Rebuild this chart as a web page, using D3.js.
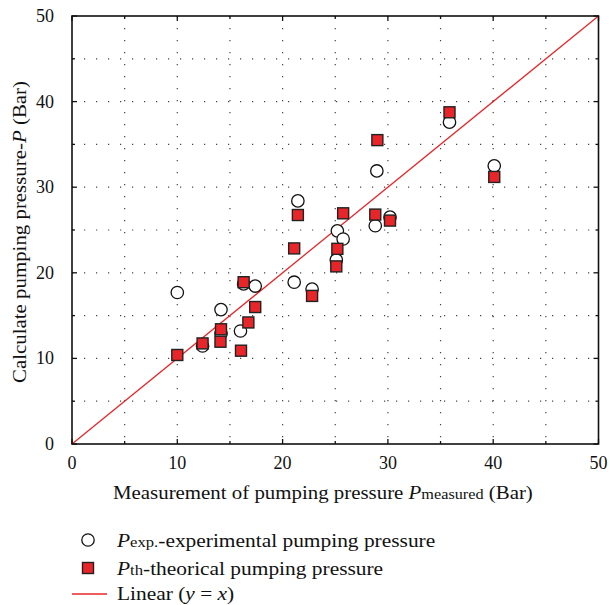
<!DOCTYPE html>
<html>
<head>
<meta charset="utf-8">
<script src="https://cdn.jsdelivr.net/npm/d3@7"></script>
<style>
  html, body { margin: 0; padding: 0; background: #fff; }
  svg { display: block; }
  text { font-family: "Liberation Serif", "Times New Roman", serif; fill: #111; }
</style>
</head>
<body>
<svg id="chart" width="610" height="605"></svg>
<script>
// ---- data ----
const expX = [10.0, 12.4, 14.15, 14.15, 16.0, 16.3, 17.4, 21.1, 21.45, 22.8, 25.2, 25.1, 25.75, 28.95, 28.8, 30.2, 35.85, 40.1];
const expY = [17.7, 11.45, 15.7, 12.9, 13.2, 18.7, 18.45, 18.9, 28.4, 18.1, 24.9, 21.5, 23.95, 31.9, 25.5, 26.5, 37.6, 32.5];

const thX = [10.0, 12.4, 14.1, 14.15, 16.05, 16.3, 16.75, 17.4, 21.1, 21.45, 22.8, 25.1, 25.2, 25.75, 28.8, 29.0, 30.2, 35.85, 40.1];
const thY = [10.4, 11.75, 11.95, 13.4, 10.9, 18.9, 14.2, 16.0, 22.85, 26.75, 17.3, 20.75, 22.8, 26.95, 26.8, 35.5, 26.1, 38.75, 31.2];

const lineX = [0, 50];
const lineY = [0, 50];

const xTicks = [0, 10, 20, 30, 40, 50];
const yTicks = [0, 10, 20, 30, 40, 50];
const gridTicks = [5, 10, 15, 20, 25, 30, 35, 40, 45];
const minorTicks = [5, 15, 25, 35, 45];

// ---- layout ----
const svg = d3.select("#chart");
const L = 72, R = 598.5, T = 16, B = 444;
const x = d3.scaleLinear().domain([0, 50]).range([L, R]);
const y = d3.scaleLinear().domain([0, 50]).range([B, T]);

const red = "#e8262a";

// grid
const g = svg.append("g");
g.selectAll(".vg").data(gridTicks).join("line")
  .attr("x1", d => x(d)).attr("x2", d => x(d))
  .attr("y1", T).attr("y2", B)
  .attr("stroke", "#444").attr("stroke-width", 1.2)
  .attr("stroke-dasharray", "1.2,10.8");
g.selectAll(".hg").data(gridTicks).join("line")
  .attr("y1", d => y(d)).attr("y2", d => y(d))
  .attr("x1", L).attr("x2", R)
  .attr("stroke", "#444").attr("stroke-width", 1.2)
  .attr("stroke-dasharray", "1.2,10.8");

// ticks inward (major & minor) on all four sides
const tk = svg.append("g").attr("stroke", "#111").attr("stroke-width", 1.3);
xTicks.forEach(d => {
  tk.append("line").attr("x1", x(d)).attr("x2", x(d)).attr("y1", B).attr("y2", B - 5);
  tk.append("line").attr("x1", x(d)).attr("x2", x(d)).attr("y1", T).attr("y2", T + 5);
});
minorTicks.forEach(d => {
  tk.append("line").attr("x1", x(d)).attr("x2", x(d)).attr("y1", B).attr("y2", B - 3);
  tk.append("line").attr("x1", x(d)).attr("x2", x(d)).attr("y1", T).attr("y2", T + 3);
});
yTicks.forEach(d => {
  tk.append("line").attr("y1", y(d)).attr("y2", y(d)).attr("x1", L).attr("x2", L + 5);
  tk.append("line").attr("y1", y(d)).attr("y2", y(d)).attr("x1", R).attr("x2", R - 5);
});
minorTicks.forEach(d => {
  tk.append("line").attr("y1", y(d)).attr("y2", y(d)).attr("x1", L).attr("x2", L + 3);
  tk.append("line").attr("y1", y(d)).attr("y2", y(d)).attr("x1", R).attr("x2", R - 3);
});

// y = x line
svg.append("line")
  .attr("x1", x(lineX[0])).attr("y1", y(lineY[0]))
  .attr("x2", x(lineX[1])).attr("y2", y(lineY[1]))
  .attr("stroke", red).attr("stroke-width", 1.3);

// circles (experimental)
svg.append("g").selectAll("circle").data(expX.map((v, i) => [v, expY[i]])).join("circle")
  .attr("cx", d => x(d[0])).attr("cy", d => y(d[1])).attr("r", 6.2)
  .attr("fill", "#fff").attr("stroke", "#111").attr("stroke-width", 1.3);

// squares (theoretical)
const s = 11;
svg.append("g").selectAll("rect").data(thX.map((v, i) => [v, thY[i]])).join("rect")
  .attr("x", d => x(d[0]) - s / 2).attr("y", d => y(d[1]) - s / 2)
  .attr("width", s).attr("height", s)
  .attr("fill", red).attr("stroke", "#222").attr("stroke-width", 1.4);

// frame
svg.append("rect").attr("x", L).attr("y", T).attr("width", R - L).attr("height", B - T)
  .attr("fill", "none").attr("stroke", "#111").attr("stroke-width", 1.6);

// tick labels
const fs = 18;
svg.append("g").selectAll("text").data(xTicks).join("text")
  .attr("x", d => x(d)).attr("y", 469)
  .attr("text-anchor", "middle").attr("font-size", fs).text(d => d);
svg.append("g").selectAll("text").data(yTicks).join("text")
  .attr("x", 54).attr("y", d => y(d) + 6)
  .attr("text-anchor", "end").attr("font-size", fs).text(d => d);

// helper: horizontally widened text (reference face is wider than Times)
function wideText(px, py, sx, rot) {
  return svg.append("text")
    .attr("transform", `translate(${px},${py}) rotate(${rot || 0}) scale(${sx},1)`)
    .attr("font-size", fs);
}

// x axis title
const xt = wideText(113, 499, 1.16, 0);
xt.append("tspan").text("Measurement of pumping pressure ");
xt.append("tspan").attr("font-style", "italic").text("P");
xt.append("tspan").attr("font-size", 14).text("measured");
xt.append("tspan").text(" (Bar)");

// y axis title
const yt = wideText(26, 232, 1.16, -90).attr("text-anchor", "middle");
yt.append("tspan").text("Calculate pumping pressure-");
yt.append("tspan").attr("font-style", "italic").text("P");
yt.append("tspan").text(" (Bar)");

// legend
const lg = svg.append("g");
lg.append("circle").attr("cx", 88).attr("cy", 540).attr("r", 6.2)
  .attr("fill", "#fff").attr("stroke", "#111").attr("stroke-width", 1.3);
const t1 = wideText(117, 547, 1.19, 0);
t1.append("tspan").attr("font-style", "italic").text("P");
t1.append("tspan").attr("font-size", 14).text("exp.");
t1.append("tspan").text("-experimental pumping pressure");

lg.append("rect").attr("x", 88 - s / 2).attr("y", 568 - s / 2).attr("width", s).attr("height", s)
  .attr("fill", red).attr("stroke", "#222").attr("stroke-width", 1.4);
const t2 = wideText(117, 575, 1.19, 0);
t2.append("tspan").attr("font-style", "italic").text("P");
t2.append("tspan").attr("font-size", 14).text("th");
t2.append("tspan").text("-theorical pumping pressure");

lg.append("line").attr("x1", 72).attr("x2", 107).attr("y1", 594).attr("y2", 594)
  .attr("stroke", red).attr("stroke-width", 1.3);
const t3 = wideText(117, 600, 1.19, 0);
t3.append("tspan").text("Linear (");
t3.append("tspan").attr("font-style", "italic").text("y");
t3.append("tspan").text(" = ");
t3.append("tspan").attr("font-style", "italic").text("x");
t3.append("tspan").text(")");
</script>
</body>
</html>
